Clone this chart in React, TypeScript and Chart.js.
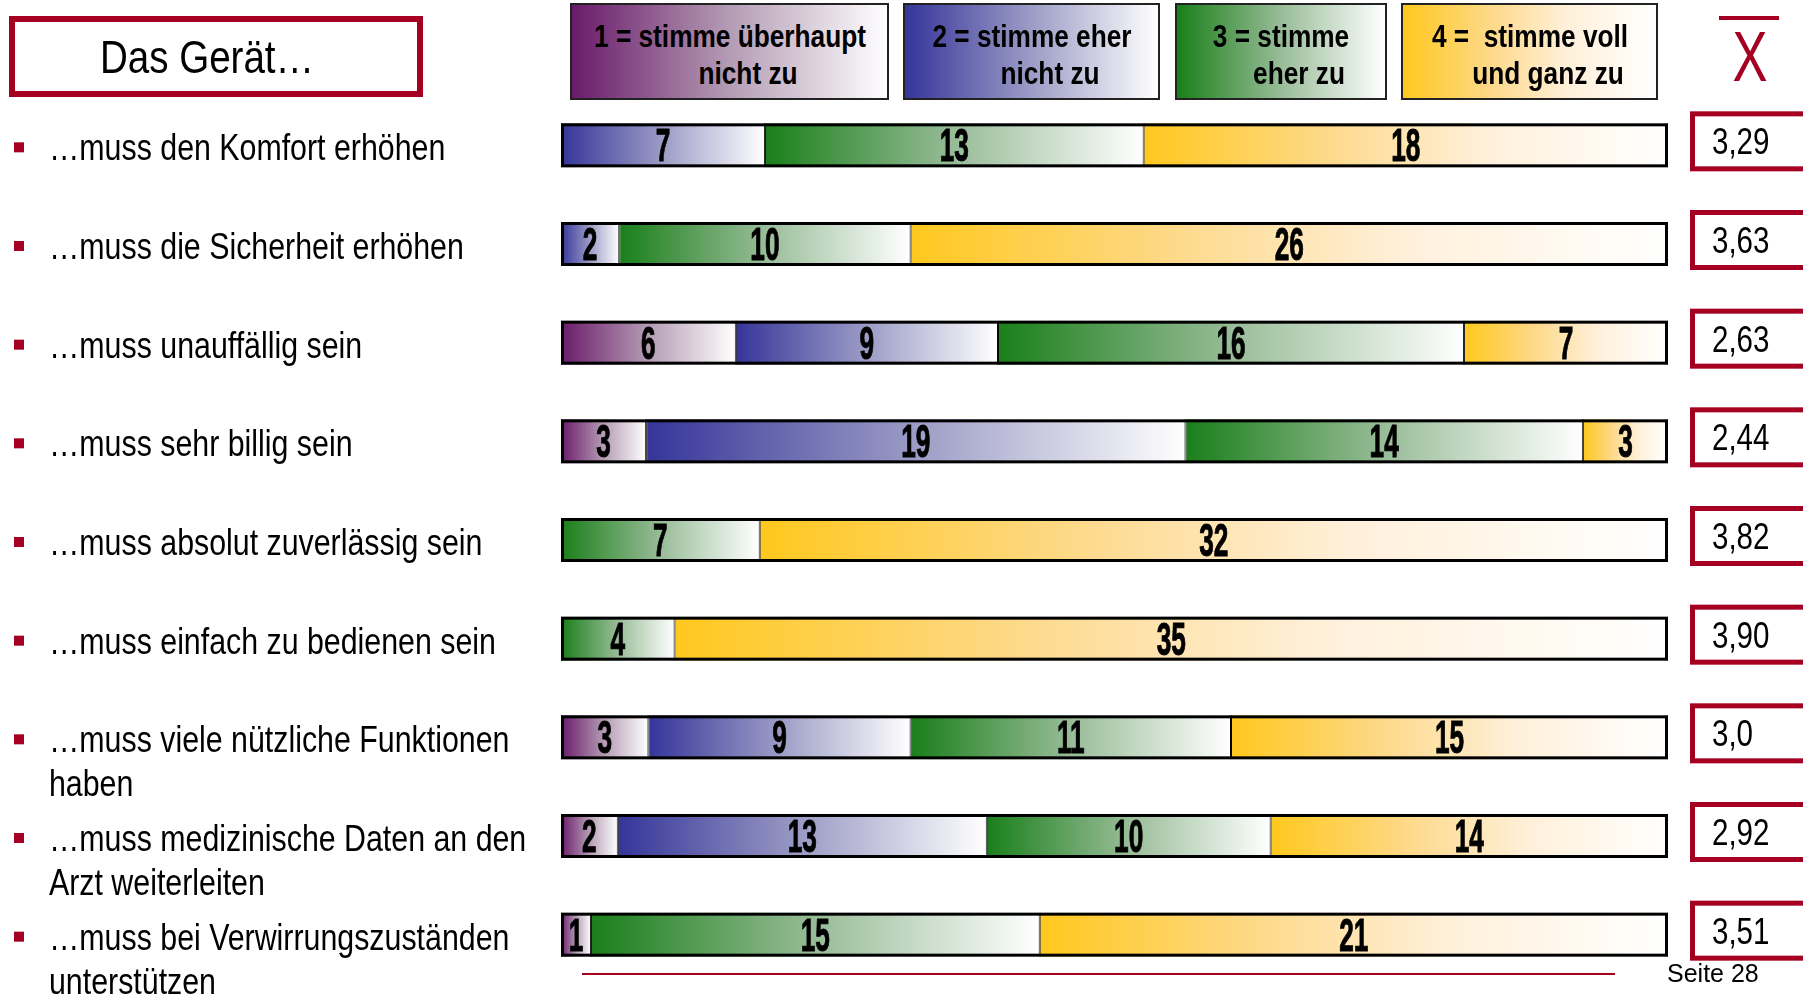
import React, { useEffect, useRef } from "react";
import { Chart, registerables } from "chart.js";

Chart.register(...registerables);

// ---------- data ----------
const categories: string[][] = [
  ["…muss den Komfort erhöhen"],
  ["…muss die Sicherheit erhöhen"],
  ["…muss unauffällig sein"],
  ["…muss sehr billig sein"],
  ["…muss absolut zuverlässig sein"],
  ["…muss einfach zu bedienen sein"],
  ["…muss viele nützliche Funktionen", "haben"],
  ["…muss medizinische Daten an den", "Arzt weiterleiten"],
  ["…muss bei Verwirrungszuständen", "unterstützen"],
];
const stimmeUeberhauptNicht = [0, 0, 6, 3, 0, 0, 3, 2, 1];
const stimmeEherNicht = [7, 2, 9, 19, 0, 0, 9, 13, 0];
const stimmeEher = [13, 10, 16, 14, 7, 4, 11, 10, 15];
const stimmeVoll = [18, 26, 7, 3, 32, 35, 15, 14, 21];
const means = ["3,29", "3,63", "2,63", "2,44", "3,82", "3,90", "3,0", "2,92", "3,51"];
const legendLine1 = ["1 = stimme überhaupt", "2 = stimme eher", "3 = stimme", "4 =  stimme voll"];
const legendLine2 = ["nicht zu", "nicht zu", "eher zu", "und ganz zu"];
const titleText = "Das Gerät…";
const meanSymbol = "X";
const pageText = "Seite 28";

// ---------- styles ----------
const SANS = "'Liberation Sans', Arial, sans-serif";
const SQUEEZE = 0.82; // imitates a narrow face
const RED = "#A50021";
const GRADIENTS: [number, string][][] = [
  [[0, "#6A1B6A"], [0.5, "#B49CB4"], [1, "#FFFFFF"]],
  [[0, "#35359A"], [0.5, "#9C9CC6"], [1, "#FFFFFF"]],
  [[0, "#1A7F1A"], [0.5, "#98BC98"], [1, "#FFFFFF"]],
  [[0, "#FFC81E"], [0.35, "#FDD98A"], [0.65, "#FFF0DA"], [1, "#FFFFFF"]],
];

const seriesCounts = [stimmeUeberhauptNicht, stimmeEherNicht, stimmeEher, stimmeVoll];
const rowTotals = categories.map((_, i) => seriesCounts.reduce((s, arr) => s + arr[i], 0));
const seriesShares = seriesCounts.map((arr) => arr.map((v, i) => (v / rowTotals[i]) * 100));

function cssGradient(stops: [number, string][]) {
  return "linear-gradient(to right, " + stops.map(([p, c]) => `${c} ${p * 100}%`).join(", ") + ")";
}

function NarrowText(props: {
  text: string;
  x: number;
  y: number;
  size: number;
  bold?: boolean;
  color?: string;
  align?: "center" | "left";
  squeeze?: number;
}) {
  const { text, x, y, size, bold, color = "#000", align = "center", squeeze = SQUEEZE } = props;
  const center = align === "center";
  return (
    <div
      style={{
        position: "absolute",
        left: x,
        top: y,
        fontFamily: SANS,
        fontSize: size,
        lineHeight: 1,
        fontWeight: bold ? "bold" : "normal",
        color,
        whiteSpace: "pre",
        transformOrigin: center ? "50% 50%" : "0% 50%",
        transform: center ? `translate(-50%,-50%) scaleX(${squeeze})` : `translate(0,-50%) scaleX(${squeeze})`,
      }}
    >
      {text}
    </div>
  );
}

export default function App() {
  const canvasRef = useRef<HTMLCanvasElement | null>(null);

  useEffect(() => {
    const canvas = canvasRef.current;
    if (!canvas) return;

    const barPlugin = {
      id: "barDecor",
      afterDatasetsDraw(chart: any) {
        const ctx = chart.ctx;
        const area = chart.chartArea;
        const meta0 = chart.getDatasetMeta(0);
        ctx.save();
        ctx.strokeStyle = "#000";
        ctx.lineWidth = 3;
        meta0.data.forEach((el: any) => {
          const { y, height } = el.getProps(["y", "height"], true);
          ctx.strokeRect(area.left + 1.5, y - height / 2 + 1.5, area.right - area.left - 3, height - 3);
        });
        ctx.restore();

        chart.data.datasets.forEach((_: any, di: number) => {
          const meta = chart.getDatasetMeta(di);
          meta.data.forEach((el: any, i: number) => {
            const c = seriesCounts[di][i];
            if (!c) return;
            const { x, base, y } = el.getProps(["x", "base", "y"], true);
            ctx.save();
            ctx.translate((x + base) / 2, y + 16);
            ctx.scale(0.57, 1);
            ctx.font = `bold 46px ${SANS}`;
            ctx.fillStyle = "#000";
            ctx.strokeStyle = "#000";
            ctx.lineWidth = 1;
            ctx.textAlign = "center";
            ctx.textBaseline = "alphabetic";
            ctx.fillText(String(c), 0, 0);
            ctx.strokeText(String(c), 0, 0);
            ctx.restore();
          });
        });
      },
      afterDraw(chart: any) {
        const ctx = chart.ctx;
        const area = chart.chartArea;
        const yS = chart.scales.y;
        ctx.save();
        categories.forEach((lines, i) => {
          const y = yS.getPixelForValue(i);
          // bullet
          ctx.fillStyle = RED;
          ctx.fillRect(14, y - 3, 10, 10);
          // category label
          ctx.fillStyle = "#000";
          ctx.font = `37px ${SANS}`;
          ctx.textAlign = "left";
          ctx.textBaseline = "alphabetic";
          lines.forEach((line, li) => {
            ctx.save();
            ctx.translate(49, y + 15 + li * 44);
            ctx.scale(SQUEEZE, 1);
            ctx.fillText(line, 0, 0);
            ctx.restore();
          });
          // mean box
          const cy = y - 4;
          ctx.strokeStyle = RED;
          ctx.lineWidth = 5;
          ctx.strokeRect(area.right + 24.5, cy - 27.5, 200, 55);
          ctx.save();
          ctx.translate(area.right + 44, cy + 13);
          ctx.scale(SQUEEZE, 1);
          ctx.font = `36px ${SANS}`;
          ctx.fillStyle = "#000";
          ctx.fillText(means[i], 0, 0);
          ctx.restore();
        });
        ctx.restore();
      },
    };

    const chart = new Chart(canvas, {
      type: "bar",
      data: {
        labels: categories.map((l) => l.join(" ")),
        datasets: seriesShares.map((shares, di) => ({
          label: legendLine1[di],
          data: shares,
          borderColor: "#000",
          borderWidth: { left: 1, right: 1, top: 0, bottom: 0 },
          borderSkipped: false,
          backgroundColor: (context: any) => {
            const ch = context.chart;
            const xs = ch.scales && ch.scales.x;
            const stops = GRADIENTS[di];
            if (!xs || context.type !== "data") return stops[0][1];
            const i = context.dataIndex;
            let start = 0;
            for (let k = 0; k < di; k++) start += seriesShares[k][i];
            const x0 = xs.getPixelForValue(start);
            const x1 = xs.getPixelForValue(start + shares[i]);
            if (!isFinite(x0) || !isFinite(x1) || x1 - x0 < 1) return stops[0][1];
            const g = ch.ctx.createLinearGradient(x0, 0, x1, 0);
            stops.forEach(([p, c]) => g.addColorStop(p, c));
            return g;
          },
        })),
      },
      options: {
        indexAxis: "y",
        animation: false,
        responsive: false,
        maintainAspectRatio: false,
        events: [],
        layout: { padding: { left: 561, right: 135, top: 96, bottom: 15 } },
        datasets: { bar: { categoryPercentage: 1, barPercentage: 0.446 } },
        plugins: { legend: { display: false }, tooltip: { enabled: false }, title: { display: false } },
        scales: {
          x: { type: "linear", stacked: true, min: 0, max: 100, display: false },
          y: { stacked: true, display: false },
        },
      } as any,
      plugins: [barPlugin],
    });
    return () => chart.destroy();
  }, []);

  const legendLefts = [570, 903, 1175, 1401];
  const legendWidths = [319, 257, 212, 257];

  return (
    <div
      style={{
        position: "absolute",
        left: 0,
        top: 0,
        width: 1803,
        height: 999,
        overflow: "hidden",
        background: "#fff",
        fontFamily: SANS,
      }}
    >
      <canvas ref={canvasRef} width={1803} height={999} style={{ position: "absolute", left: 0, top: 0 }} />
      <div
        style={{
          position: "absolute",
          left: 9,
          top: 16,
          width: 414,
          height: 81,
          boxSizing: "border-box",
          border: `6px solid ${RED}`,
        }}
      />
      <NarrowText text={titleText} x={207} y={56} size={47} />
      {legendLine1.map((l1, i) => (
        <React.Fragment key={i}>
          <div
            style={{
              position: "absolute",
              left: legendLefts[i],
              top: 3,
              width: legendWidths[i],
              height: 97,
              boxSizing: "border-box",
              border: "2px solid #222",
              background: cssGradient(GRADIENTS[i]),
            }}
          />
          <NarrowText text={l1} x={legendLefts[i] + legendWidths[i] / 2} y={36} size={32} bold />
          <NarrowText text={legendLine2[i]} x={legendLefts[i] + legendWidths[i] / 2 + 18} y={73} size={32} bold />
        </React.Fragment>
      ))}
      <div style={{ position: "absolute", left: 1719, top: 16, width: 60, height: 4, background: RED }} />
      <NarrowText text={meanSymbol} x={1750} y={57} size={70} color={RED} squeeze={0.75} />
      <div style={{ position: "absolute", left: 582, top: 973, width: 1033, height: 2, background: RED }} />
      <NarrowText text={pageText} x={1667} y={973} size={25} align="left" squeeze={1} />
    </div>
  );
}
